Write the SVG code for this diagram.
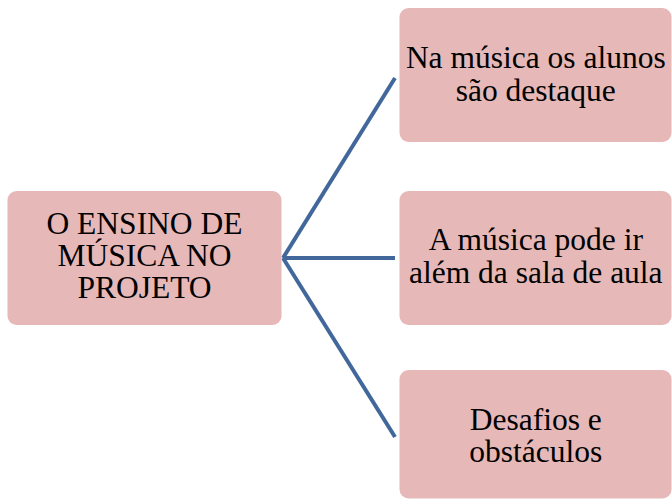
<svg xmlns="http://www.w3.org/2000/svg" width="672" height="500" viewBox="0 0 672 500">
  <style>
    .node { fill: #E6B8B7; }
    .conn { stroke: #41679B; stroke-width: 4; fill: none; stroke-linecap: butt; }
    .lbl { font-family: "Liberation Serif", "Times New Roman", serif; font-size: 31.5px; fill: #000; text-anchor: middle; }
  </style>
  <rect width="672" height="500" fill="#FFFFFF"/>
  <g id="connectors">
    <line class="conn" x1="283" y1="258" x2="395" y2="78"/>
    <line class="conn" x1="283" y1="258" x2="395" y2="258"/>
    <line class="conn" x1="283" y1="258" x2="395" y2="437"/>
  </g>
  <g id="node-root">
    <rect class="node" x="7.5" y="191" width="274" height="134" rx="9"/>
    <text class="lbl" x="144.5" y="234">O ENSINO DE</text>
    <text class="lbl" x="144.5" y="266">MÚSICA NO</text>
    <text class="lbl" x="144.5" y="298">PROJETO</text>
  </g>
  <g id="node-1">
    <rect class="node" x="399.5" y="8" width="272" height="134" rx="9"/>
    <text class="lbl" x="535.8" y="67.5">Na música os alunos</text>
    <text class="lbl" x="535.8" y="100.5">são destaque</text>
  </g>
  <g id="node-2">
    <rect class="node" x="399.5" y="191" width="272" height="134" rx="9"/>
    <text class="lbl" x="535.8" y="250">A música pode ir</text>
    <text class="lbl" x="535.8" y="282.5">além da sala de aula</text>
  </g>
  <g id="node-3">
    <rect class="node" x="399.5" y="370" width="272" height="128.5" rx="9"/>
    <text class="lbl" x="535.8" y="430">Desafios e</text>
    <text class="lbl" x="535.8" y="462">obstáculos</text>
  </g>
</svg>
